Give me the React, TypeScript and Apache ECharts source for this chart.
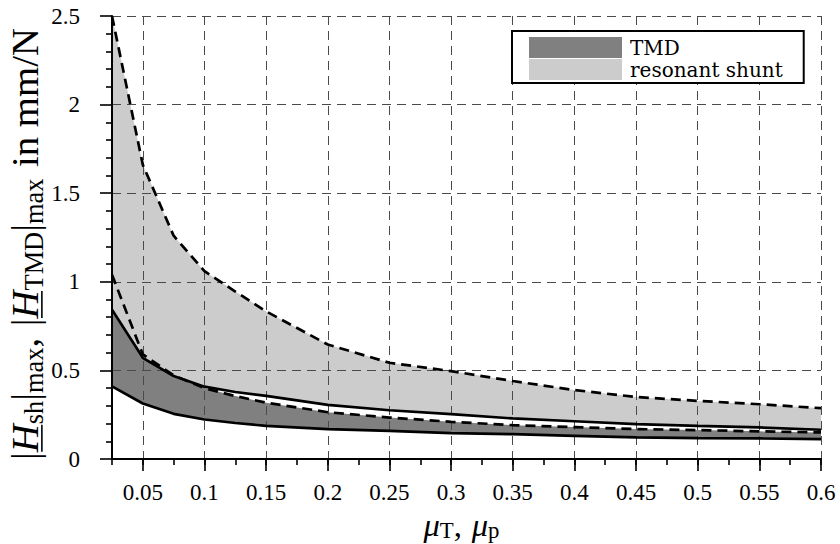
import React, { useEffect, useRef } from 'react';
import * as echarts from 'echarts';

// mass ratio mu_T / mu_p
const mu = [0.025, 0.05, 0.075, 0.1, 0.125, 0.15, 0.2, 0.25, 0.3, 0.35, 0.4, 0.45, 0.5, 0.55, 0.6];
// resonant shunt band (dashed curves)
const shuntMax = [2.5, 1.66, 1.26, 1.06, 0.945, 0.833, 0.646, 0.543, 0.496, 0.44, 0.389, 0.35, 0.328, 0.309, 0.287];
const shuntMin = [1.04, 0.59, 0.472, 0.4, 0.355, 0.318, 0.264, 0.234, 0.21, 0.191, 0.18, 0.169, 0.163, 0.156, 0.15];
// TMD band (solid curves)
const tmdMax = [0.843, 0.571, 0.468, 0.408, 0.378, 0.356, 0.305, 0.275, 0.253, 0.229, 0.213, 0.197, 0.187, 0.178, 0.165];
const tmdMin = [0.41, 0.313, 0.255, 0.223, 0.203, 0.187, 0.169, 0.159, 0.146, 0.14, 0.131, 0.122, 0.118, 0.116, 0.112];

const legendNames = ['TMD', 'resonant shunt'];
const bandColors = ['#808080', '#cccccc'];

const SERIF = 'Liberation Serif, serif';
const LEGEND_FONT = 'DejaVu Serif, serif';

// gap: extra space (in em of the main size) after the token
type Tok = { t: string; sub?: boolean; it?: boolean; ul?: boolean; gap?: number };

const yTitle: Tok[] = [
  { t: '|' }, { t: 'H', it: true, ul: true }, { t: 'sh', sub: true }, { t: '|' }, { t: 'max', sub: true },
  { t: ',', gap: 0.3 }, { t: '|' }, { t: 'H', it: true, ul: true }, { t: 'TMD', sub: true }, { t: '|' },
  { t: 'max', sub: true, gap: 0.3 }, { t: 'in mm/N' },
];
const xTitle: Tok[] = [
  { t: 'μ', it: true }, { t: 'T', sub: true }, { t: ',', gap: 0.3 }, { t: 'μ', it: true }, { t: 'p', sub: true },
];

export default function App() {
  const ref = useRef<HTMLDivElement>(null);
  useEffect(() => {
    const el = ref.current;
    if (!el) return;
    const chart = echarts.init(el, undefined, { renderer: 'svg' });

    // measure texts the way the SVG renderer will draw them
    const svgNS = 'http://www.w3.org/2000/svg';
    const probe = document.createElementNS(svgNS, 'svg');
    probe.setAttribute('style', 'position:absolute;left:-5000px;top:0;width:10px;height:10px;visibility:hidden');
    document.body.appendChild(probe);
    const measure = (t: string, size: number, italic: boolean) => {
      const tx = document.createElementNS(svgNS, 'text') as SVGTextElement;
      tx.setAttribute('style', `font-size:${size}px;font-family:${SERIF};${italic ? 'font-style:italic;' : ''}`);
      tx.textContent = t;
      probe.appendChild(tx);
      const w = tx.getComputedTextLength();
      probe.removeChild(tx);
      return w;
    };

    // lay out a math-like label, scaled so that it spans `span` pixels
    const layout = (tokens: Tok[], span: number, subRatio: number, dropEm: number, ulEm: number) => {
      const unit = 100;
      const raw = tokens.map((tk) => {
        const size = tk.sub ? unit * subRatio : unit;
        return measure(tk.t, size, !!tk.it) + (tk.gap || 0) * unit;
      });
      const rawTotal = raw.reduce((a, b) => a + b, 0);
      const M = (unit * span) / rawTotal;
      const S = M * subRatio;
      const k = M / unit;
      let x = -span / 2;
      const children: any[] = [];
      tokens.forEach((tk, i) => {
        const size = tk.sub ? S : M;
        const base = tk.sub ? dropEm * M : 0;
        const w = raw[i] * k - (tk.gap || 0) * M;
        children.push({
          type: 'text',
          x,
          y: base - 0.3375 * size,
          style: {
            text: tk.t,
            fontFamily: SERIF,
            fontSize: size,
            fontStyle: tk.it ? 'italic' : 'normal',
            fill: '#000',
            textAlign: 'left',
            textVerticalAlign: 'middle',
            verticalAlign: 'middle',
          },
        });
        if (tk.ul) {
          children.push({
            type: 'line',
            shape: { x1: x + 0.5, y1: ulEm * M, x2: x + w - 0.5, y2: ulEm * M },
            style: { stroke: '#000', lineWidth: 1.6 },
          });
        }
        x += raw[i] * k;
      });
      return children;
    };

    const yTitleChildren = layout(yTitle, 432, 0.68, 0.14, 0.1);
    const xTitleChildren = layout(xTitle, 76, 0.7, 0.06, 0.1);
    document.body.removeChild(probe);

    const pairs = (arr: number[]) => mu.map((x, i) => [x, arr[i]]);
    // the TMD fill stops where the shunt's lower curve dips below the TMD's upper curve
    const tmdTop = mu.map((_, i) => Math.min(tmdMax[i], shuntMin[i]));
    const bandData = (lo: number[], hi: number[]) => mu.map((x, i) => [x, lo[i], hi[i]]);

    const band = (name: string, color: string, lo: number[], hi: number[]) => ({
      name,
      type: 'custom',
      data: bandData(lo, hi),
      encode: { x: 0, y: [1, 2] },
      itemStyle: { color },
      silent: true,
      z: 1,
      renderItem: (params: any, api: any) => {
        if (params.dataIndex !== 0) return null;
        const upper = mu.map((x, i) => api.coord([x, hi[i]]));
        const lower = mu.map((x, i) => api.coord([x, lo[i]])).reverse();
        return {
          type: 'polygon',
          shape: { points: upper.concat(lower) },
          style: { fill: color, stroke: null },
        };
      },
    });

    const curve = (name: string, arr: number[], dashed: boolean) => ({
      name,
      type: 'line',
      data: pairs(arr),
      symbol: 'none',
      silent: true,
      z: 5,
      lineStyle: dashed
        ? { color: '#000', width: 2.7, type: [10, 6] }
        : { color: '#000', width: 2.7 },
    });

    const xFmt = (v: number) => (Math.abs(v - 0.025) < 1e-9 ? '' : String(Math.round(v * 1000) / 1000));

    const option: any = {
      animation: false,
      backgroundColor: '#ffffff',
      textStyle: { fontFamily: SERIF },
      grid: { left: 112, right: 19, top: 16, bottom: 85, containLabel: false },
      legend: {
        data: [
          { name: legendNames[0], itemStyle: { color: bandColors[0], opacity: 1, borderWidth: 0 } },
          { name: legendNames[1], itemStyle: { color: bandColors[1], opacity: 1, borderWidth: 0 } },
        ],
        orient: 'vertical',
        left: 512,
        top: 31,
        icon: 'rect',
        itemWidth: 93,
        itemHeight: 21,
        itemGap: 1,
        padding: [6, 21, 3, 17],
        borderColor: '#000',
        borderWidth: 2,
        borderRadius: 0,
        backgroundColor: '#ffffff',
        selectedMode: false,
        itemStyle: { borderWidth: 0 },
        textStyle: { fontFamily: LEGEND_FONT, fontSize: 20, color: '#000', lineHeight: 21, padding: [0, 0, 0, 3] },
        z: 10,
      },
      xAxis: [
        {
          type: 'value',
          min: 0.025,
          max: 0.6,
          splitNumber: 12,
          z: 3,
          axisLine: { show: true, onZero: false, lineStyle: { color: '#000', width: 2 } },
          axisTick: { show: true, length: 12, lineStyle: { color: '#000', width: 1.6 } },
          axisLabel: { margin: 22, fontFamily: SERIF, fontSize: 23, color: '#000', showMinLabel: false, formatter: xFmt },
          splitLine: { show: true, lineStyle: { color: '#4a4a4a', width: 1, type: [9, 6] } },
        },
        {
          type: 'value',
          min: 0.025,
          max: 0.6,
          interval: 0.025,
          position: 'bottom',
          z: 3,
          axisLine: { show: false, onZero: false },
          axisTick: { show: true, length: 6, lineStyle: { color: '#000', width: 1.6 } },
          axisLabel: { show: false },
          splitLine: { show: false },
        },
      ],
      yAxis: {
        type: 'value',
        min: 0,
        max: 2.5,
        interval: 0.5,
        z: 3,
        axisLine: { show: true, onZero: false, lineStyle: { color: '#000', width: 2 } },
        axisTick: { show: true, length: 12, lineStyle: { color: '#000', width: 1.6 } },
        minorTick: { show: true, splitNumber: 5, length: 6, lineStyle: { color: '#000', width: 1.6 } },
        axisLabel: { margin: 32, fontFamily: SERIF, fontSize: 23, color: '#000' },
        splitLine: { show: true, lineStyle: { color: '#4a4a4a', width: 1, type: [9, 6] } },
      },
      series: [
        band(legendNames[1], bandColors[1], tmdMax, shuntMax),
        band(legendNames[0], bandColors[0], tmdMin, tmdTop),
        curve('shuntMaxLine', shuntMax, true),
        curve('shuntMinLine', shuntMin, true),
        curve('tmdMaxLine', tmdMax, false),
        curve('tmdMinLine', tmdMin, false),
      ],
      graphic: [
        {
          type: 'group',
          x: 38,
          y: 244,
          rotation: Math.PI / 2,
          silent: true,
          z: 20,
          children: yTitleChildren,
        },
        {
          type: 'group',
          x: 461.5,
          y: 536,
          silent: true,
          z: 20,
          children: xTitleChildren,
        },
      ],
    };
    chart.setOption(option);
    return () => chart.dispose();
  }, []);

  return <div ref={ref} style={{ position: 'absolute', left: 0, top: 0, width: 840, height: 544 }} />;
}
